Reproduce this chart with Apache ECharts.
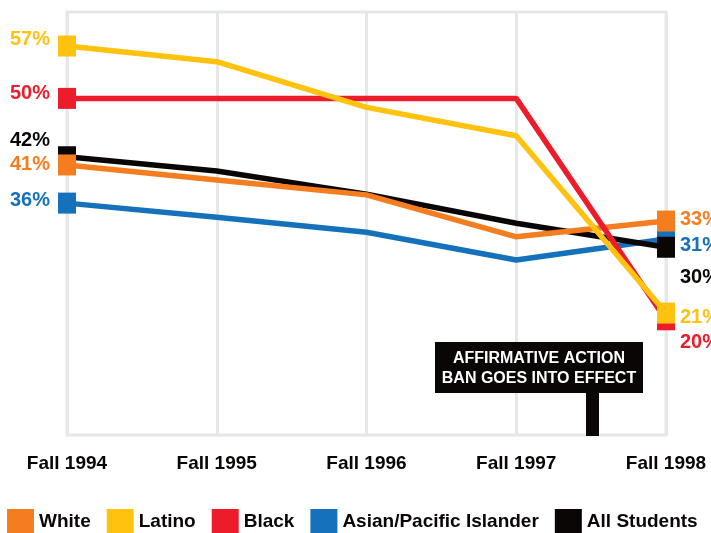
<!DOCTYPE html>
<html>
<head>
<meta charset="utf-8">
<script src="https://cdn.jsdelivr.net/npm/echarts@6/dist/echarts.min.js"></script>
<style>
html,body{margin:0;padding:0;background:#fff;}
#chart{width:711px;height:533px;}
</style>
</head>
<body>
<div id="chart"></div>
<script>
const categories = ['Fall 1994', 'Fall 1995', 'Fall 1996', 'Fall 1997', 'Fall 1998'];
const seriesNames = ['White', 'Latino', 'Black', 'Asian/Pacific Islander', 'All Students'];
const white = [41.1, 39.1, 37.1, 31.5, 33.6];
const latino = [57, 54.9, 48.8, 45.0, 21.3];
const black = [50, 50, 50, 50, 20.4];
const asian = [36, 34.1, 32.1, 28.4, 31.2];
const allStudents = [42.2, 40.3, 37.2, 33.3, 30.1];
const startLabels = ['41%', '57%', '50%', '36%', '42%'];
const endLabels = ['33%', '21%', '20%', '31%', '30%'];
const annotationText = ['AFFIRMATIVE ACTION', 'BAN GOES INTO EFFECT'];

const colors = ['#F47D20', '#FEC20F', '#EC1C2A', '#1471BA', '#0B0606'];
const values = [white, latino, black, asian, allStudents];
const zs = [4, 6, 5, 2, 3];
const startDy = [0, -7, -5, -3, -16];
const endDy = [-2, 4, 23, 6, 30];
const FONT = '"Liberation Sans", Arial, Helvetica, sans-serif';

const chart = echarts.init(document.getElementById('chart'), null, {renderer: 'canvas'});

const series = seriesNames.map((name, s) => {
  const vals = values[s];
  const last = vals.length - 1;
  return {
    name: name,
    type: 'line',
    z: zs[s],
    color: colors[s],
    lineStyle: {width: 5.5, color: colors[s]},
    itemStyle: {color: colors[s]},
    symbol: 'rect',
    showAllSymbol: true,
    symbolSize: (v, p) => (p.dataIndex === 0 || p.dataIndex === last) ? [18, 21] : 0,
    label: {show: false},
    emphasis: {disabled: true},
    data: vals.map((v, i) => {
      const item = {value: v};
      if (i === 0) {
        item.label = {show: true, position: 'left', distance: 8, offset: [0, startDy[s]],
          formatter: startLabels[s], color: colors[s], fontFamily: FONT, fontWeight: 'bold', fontSize: 20};
      } else if (i === last) {
        item.label = {show: true, position: 'right', distance: 5, offset: [0, endDy[s]],
          formatter: endLabels[s], color: colors[s], fontFamily: FONT, fontWeight: 'bold', fontSize: 20};
      }
      return item;
    })
  };
});

chart.setOption({
  animation: false,
  backgroundColor: '#ffffff',
  grid: {left: 67, right: 45, top: 12, bottom: 98, show: true, borderColor: '#E6E7E8', borderWidth: 3, containLabel: false},
  legend: {
    left: 7, top: 509, padding: 0, icon: 'rect', itemWidth: 27, itemHeight: 26, itemGap: 16,
    data: seriesNames,
    textStyle: {fontFamily: FONT, fontWeight: 'bold', fontSize: 19, color: '#0B0606'},
    selectedMode: false
  },
  xAxis: {
    type: 'category', data: categories, boundaryGap: false,
    axisLine: {show: false}, axisTick: {show: false},
    axisLabel: {fontFamily: FONT, fontWeight: 'bold', fontSize: 19, color: '#0B0606', margin: 19},
    splitLine: {show: true, lineStyle: {color: '#E6E7E8', width: 3}}
  },
  yAxis: {
    type: 'value', min: 5, max: 61.55,
    axisLine: {show: false}, axisTick: {show: false}, axisLabel: {show: false},
    splitLine: {show: false}
  },
  series: series,
  graphic: [
    {type: 'rect', z: 100, shape: {x: 435, y: 342, width: 208, height: 51}, style: {fill: '#0B0606'}},
    {type: 'rect', z: 100, shape: {x: 586, y: 392, width: 13, height: 44}, style: {fill: '#0B0606'}},
    {type: 'text', z: 101, x: 539, y: 369, style: {text: annotationText.join('\n'), align: 'center', verticalAlign: 'middle',
      fill: '#ffffff', font: 'bold 16px ' + FONT, lineHeight: 20}}
  ]
});
</script>
</body>
</html>
